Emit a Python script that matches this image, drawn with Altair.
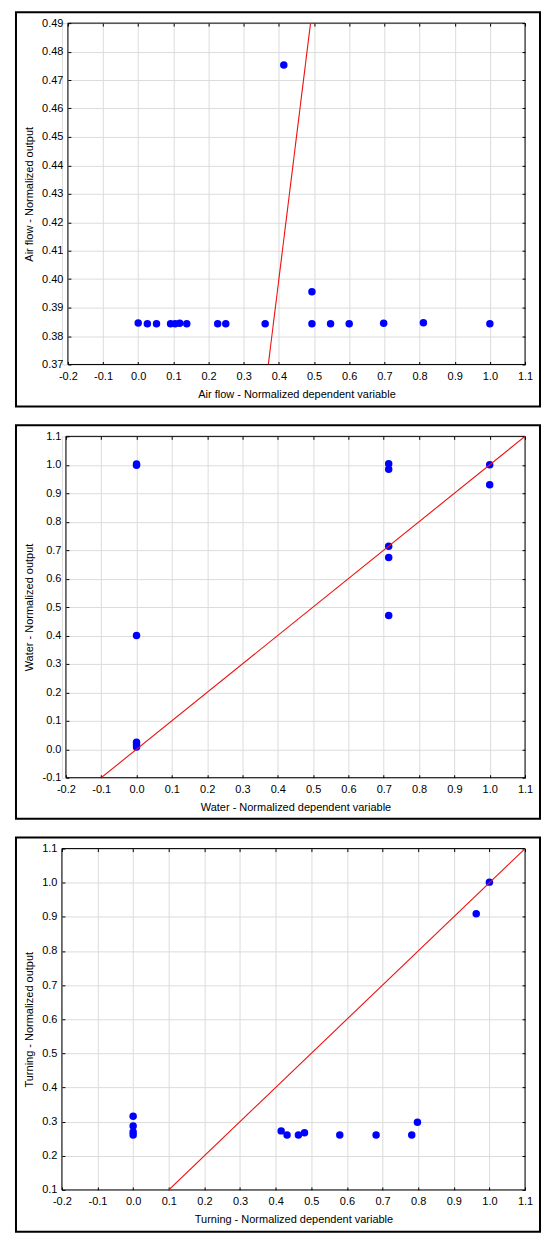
import altair as alt
import pandas as pd

# ---------------- data ----------------
air_x = [0.0, 0.026, 0.052, 0.092, 0.105, 0.118, 0.138, 0.226, 0.249, 0.361,
         0.414, 0.494, 0.494, 0.547, 0.600, 0.698, 0.811, 1.0]
air_y = [0.3846, 0.3843, 0.3843, 0.3843, 0.3843, 0.3845, 0.3843, 0.3843, 0.3843, 0.3843,
         0.4753, 0.3956, 0.3843, 0.3843, 0.3843, 0.3845, 0.3847, 0.3843]

water_x = [0.0, 0.0, 0.0, 0.0, 0.0, 0.0, 0.714, 0.714, 0.714, 0.714, 0.714, 1.0, 1.0]
water_y = [1.003, 0.998, 0.400, 0.025, 0.016, 0.008, 1.004, 0.984, 0.714, 0.674, 0.470, 1.0, 0.930]

turn_x = [0.0, 0.0, 0.0, 0.0, 0.4155, 0.432, 0.464, 0.481, 0.580, 0.682, 0.782, 0.798, 0.963, 1.0]
turn_y = [0.316, 0.287, 0.270, 0.261, 0.273, 0.261, 0.261, 0.2675, 0.261, 0.261, 0.261, 0.2986, 0.909, 1.0017]

x_ticks = [-0.2, -0.1, 0.0, 0.1, 0.2, 0.3, 0.4, 0.5, 0.6, 0.7, 0.8, 0.9, 1.0, 1.1]
air_ticks = [0.37, 0.38, 0.39, 0.40, 0.41, 0.42, 0.43, 0.44, 0.45, 0.46, 0.47, 0.48, 0.49]
water_ticks = [-0.1, 0.0, 0.1, 0.2, 0.3, 0.4, 0.5, 0.6, 0.7, 0.8, 0.9, 1.0, 1.1]
turn_ticks = [0.1, 0.2, 0.3, 0.4, 0.5, 0.6, 0.7, 0.8, 0.9, 1.0, 1.1]

air_diag = [0.37, 0.49]
water_diag = [-0.1, 1.1]
turn_diag = [0.1, 1.1]

FONT = "Liberation Sans"
MINUS = "\u2212"
W = 464      # common view width (plot right edges coincide)
H = 342
LEFT = 46    # outer frame distance left of the common view origin


def panel(xs, ys, yticks, yfmt, diag, xtitle, ytitle, inset, bottom_ext):
    pts = pd.DataFrame({"x": xs, "y": ys})
    dg = pd.DataFrame({"x": diag, "y": diag})
    xscale = alt.Scale(domain=[x_ticks[0], x_ticks[-1]], range=[inset, W],
                       nice=False, zero=False)
    yscale = alt.Scale(domain=[yticks[0], yticks[-1]], nice=False, zero=False)

    tick = dict(tickSize=3, tickColor="black", domain=False)
    text = dict(labelFont=FONT, labelFontSize=11, labelColor="black",
                titleFont=FONT, titleFontSize=11, titleFontWeight=400, titleColor="black")

    points = alt.Chart(pts).mark_circle(size=56, color="#0000ff", opacity=1).encode(
        x=alt.X("x:Q", scale=xscale, title=xtitle,
                axis=alt.Axis(values=x_ticks, orient="bottom", format=".1f",
                              labelExpr=f"replace(datum.label, '{MINUS}', '-')",
                              grid=True, gridColor="#dcdcdc", labelPadding=6,
                              titlePadding=7, labelFlush=False, labelOverlap=False,
                              offset=-3, **tick, **text)),
        y=alt.Y("y:Q", scale=yscale, title=ytitle,
                axis=alt.Axis(values=yticks, orient="left", format=yfmt,
                              labelExpr=f"replace(datum.label, '{MINUS}', '-')",
                              grid=True, gridColor="#dcdcdc", labelPadding=5,
                              titlePadding=7, labelFlush=False, labelOverlap=False,
                              offset=-(inset + 3), **tick, **text)),
    )

    line = alt.Chart(dg).mark_line(color="#ee1111", strokeWidth=1.1, clip=True).encode(
        x=alt.X("x:Q", scale=xscale, title=None,
                axis=alt.Axis(values=x_ticks, orient="top", labels=False, grid=False,
                              offset=-3, **tick)),
        y=alt.Y("y:Q", scale=yscale, title=None,
                axis=alt.Axis(values=yticks, orient="right", labels=False, grid=False,
                              offset=-3, **tick)),
    )

    plot_box = alt.Chart(alt.Data(values=[{}])).mark_rect(
        fillOpacity=0, stroke="black", strokeWidth=1
    ).encode(
        x=alt.value(inset), x2=alt.value(W), y=alt.value(0), y2=alt.value(H),
    )

    frame = alt.Chart(alt.Data(values=[{}])).mark_rect(
        fillOpacity=0, stroke="black", strokeWidth=2
    ).encode(
        x=alt.value(-LEFT), x2=alt.value(W + 15),
        y=alt.value(-11), y2=alt.value(H + bottom_ext),
    )

    return alt.layer(frame, plot_box, points, line).resolve_axis(
        x="independent", y="independent"
    ).properties(width=W, height=H)


p1 = panel(air_x, air_y, air_ticks, ".2f", air_diag,
           "Air flow - Normalized dependent variable", "Air flow - Normalized output",
           6, 42)
p2 = panel(water_x, water_y, water_ticks, ".1f", water_diag,
           "Water - Normalized dependent variable", "Water - Normalized output",
           4, 41)
p3 = panel(turn_x, turn_y, turn_ticks, ".1f", turn_diag,
           "Turning - Normalized dependent variable", "Turning - Normalized output",
           0, 42)

chart = alt.vconcat(p1, p2, p3, spacing=15).properties(
    padding={"left": 6, "top": 1, "right": 0, "bottom": 0}
).configure_view(
    strokeWidth=0
).configure(background="white")

chart.save("out.html", embed_options={"renderer": "svg", "actions": False})
